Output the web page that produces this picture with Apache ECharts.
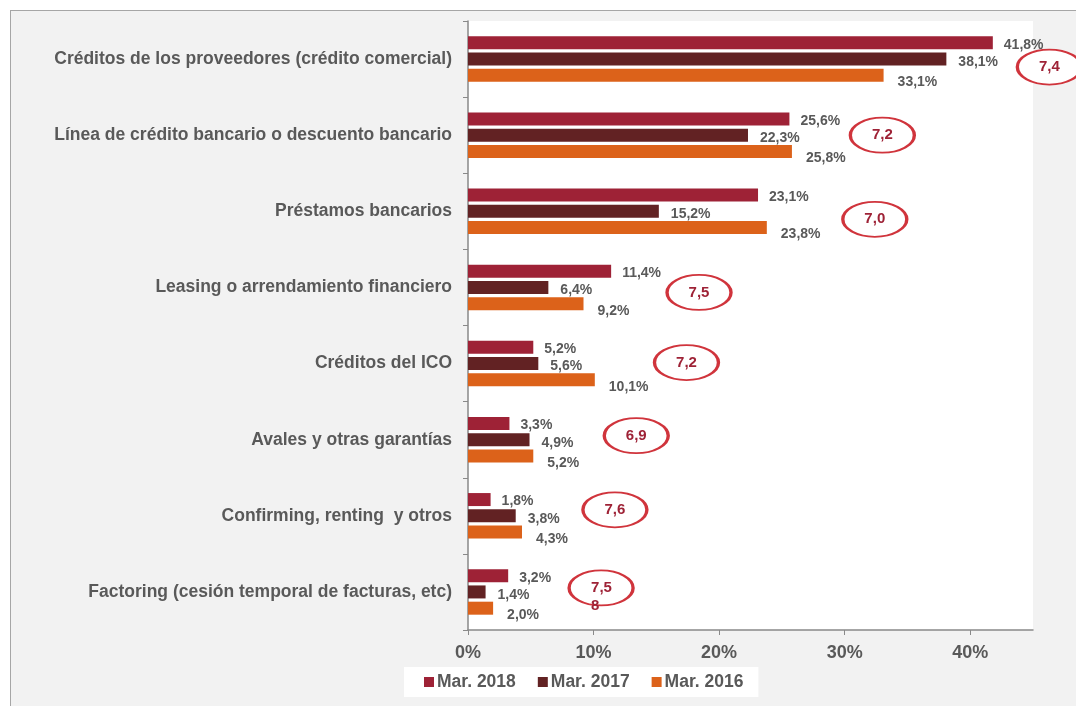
<!DOCTYPE html>
<html>
<head>
<meta charset="utf-8">
<script src="https://cdn.jsdelivr.net/npm/echarts@6/dist/echarts.min.js"></script>
<style>
  html, body { margin: 0; padding: 0; background: #ffffff; }
  #frame { position: absolute; left: 10px; top: 10px; width: 1066px; height: 696px;
           background: #f2f2f2; border-left: 1.5px solid #a6a6a6; border-top: 1.5px solid #a6a6a6; }
  #chart { position: absolute; left: 0; top: 0; width: 1076px; height: 706px; }
</style>
</head>
<body>
<div id="frame"></div>
<div id="chart"></div>
<script>
// ---- Data ----
const categories = [
  'Créditos de los proveedores (crédito comercial)',
  'Línea de crédito bancario o descuento bancario',
  'Préstamos bancarios',
  'Leasing o arrendamiento financiero',
  'Créditos del ICO',
  'Avales y otras garantías',
  'Confirming, renting  y otros',
  'Factoring (cesión temporal de facturas, etc)'
];
const seriesNames = ['Mar. 2018', 'Mar. 2017', 'Mar. 2016'];
const mar2018 = [41.8, 25.6, 23.1, 11.4, 5.2, 3.3, 1.8, 3.2];
const mar2017 = [38.1, 22.3, 15.2, 6.4, 5.6, 4.9, 3.8, 1.4];
const mar2016 = [33.1, 25.8, 23.8, 9.2, 10.1, 5.2, 4.3, 2.0];
const xTicks = [0, 10, 20, 30, 40];
// circled scores (annotations)
const scoreLabels = ['7,4', '7,2', '7,0', '7,5', '7,2', '6,9', '7,6', '7,5\n8'];
// annotation placement (axis units / pixel nudge)
const annotX = [46.3, 33.0, 32.4, 18.4, 17.4, 13.4, 11.7, 10.6];
const annotDy = [8, 0, 8, 5, -1, -4, -6, -4];

// ---- Styles ----
const colors = ['#9e2236', '#622223', '#dc621a'];
const labelOffsets = [[6, 2], [7, 3], [9, 7]];
const textGray = '#595959';
const axisGray = '#898989';
const ellipsePath = 'path://M0,50 C0,22.4 22.4,0 50,0 C77.6,0 100,22.4 100,50 C100,77.6 77.6,100 50,100 C22.4,100 0,77.6 0,50 Z';
const fontFam = '"Liberation Sans", Arial, sans-serif';

const values = [mar2018, mar2017, mar2016];
const barSeries = values.map((vals, i) => ({
  name: seriesNames[i],
  type: 'bar',
  data: vals,
  barWidth: 13,
  barGap: '25%',
  itemStyle: { color: colors[i] },
  label: {
    show: true,
    position: 'right',
    offset: labelOffsets[i],
    formatter: p => p.value.toFixed(1).replace('.', ',') + '%',
    color: textGray,
    fontWeight: 'bold',
    fontSize: 14,
    fontFamily: fontFam
  },
  z: 2
}));

const annotSeries = {
  type: 'scatter',
  clip: false,
  silent: true,
  z: 5,
  symbol: ellipsePath,
  symbolSize: [64, 35],
  itemStyle: { color: '#ffffff', borderColor: '#d0343c', borderWidth: 2.5, opacity: 1 },
  data: annotX.map((x, i) => {
    const last = i === scoreLabels.length - 1;
    return {
      value: [x, categories[i]],
      symbolOffset: [0, annotDy[i]],
      label: {
        show: true,
        position: 'inside',
        formatter: scoreLabels[i],
        color: '#9e2236',
        fontWeight: 'bold',
        fontSize: 15,
        lineHeight: 18,
        fontFamily: fontFam,
        align: last ? 'left' : 'center',
        offset: last ? [-10, 9] : [0, 0]
      }
    };
  })
};

const chart = echarts.init(document.getElementById('chart'), null, { renderer: 'canvas' });
chart.setOption({
  backgroundColor: 'transparent',
  animation: false,
  textStyle: { fontFamily: fontFam },
  grid: {
    left: 468, top: 21, width: 565, height: 609,
    show: true, backgroundColor: '#ffffff', borderWidth: 0,
    containLabel: false
  },
  legend: {
    data: seriesNames,
    left: 404, top: 667,
    padding: [6, 15, 6, 20],
    backgroundColor: '#ffffff',
    icon: 'rect',
    itemWidth: 10, itemHeight: 10,
    itemGap: 22,
    textStyle: { color: textGray, fontWeight: 'bold', fontSize: 17.5, fontFamily: fontFam, padding: [0, 0, 0, -2] }
  },
  xAxis: {
    type: 'value',
    min: 0, max: 45, interval: 10,
    axisLine: { show: true, lineStyle: { color: axisGray, width: 1.5 } },
    axisTick: { show: true, length: 5, lineStyle: { color: axisGray }, customValues: xTicks },
    axisLabel: {
      customValues: xTicks,
      formatter: v => v + '%',
      color: textGray, fontWeight: 'bold', fontSize: 18, margin: 14, fontFamily: fontFam
    },
    splitLine: { show: false }
  },
  yAxis: {
    type: 'category',
    inverse: true,
    data: categories,
    axisLine: { show: true, lineStyle: { color: axisGray, width: 1.5 } },
    axisTick: { show: true, length: 5, lineStyle: { color: axisGray } },
    axisLabel: { color: textGray, fontWeight: 'bold', fontSize: 17.5, margin: 16, fontFamily: fontFam }
  },
  series: [...barSeries, annotSeries]
});
</script>
</body>
</html>
